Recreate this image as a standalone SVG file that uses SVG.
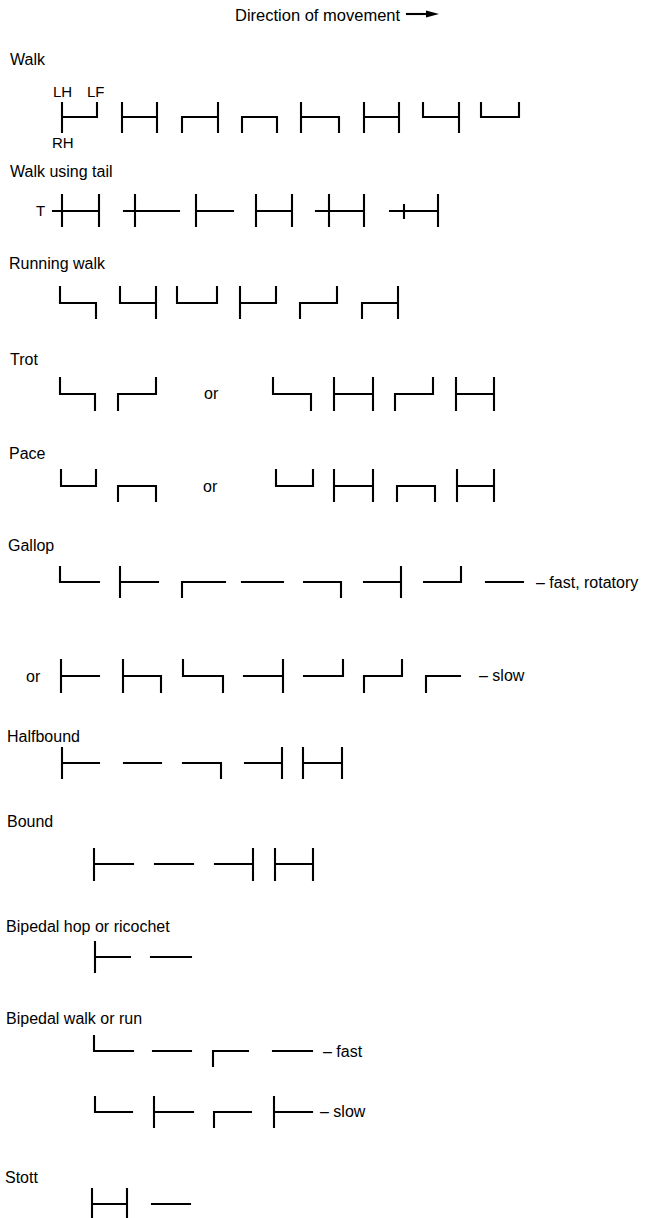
<svg xmlns="http://www.w3.org/2000/svg" width="648" height="1218" viewBox="0 0 648 1218">
<style>
text{font-family:"Liberation Sans",Arial,sans-serif;font-size:16px;fill:#000}
.t{font-size:16.5px}
.s{font-size:15px}
path{fill:none;stroke:#000;stroke-width:2.1;stroke-linecap:square;stroke-linejoin:miter}
</style>
<rect width="648" height="1218" fill="#fff"/>
<g id="title">
<text class="t" x="235" y="21">Direction of movement</text>
<path d="M407 14H430"/>
<polygon points="426,10.5 439,14 426,17.5" fill="#000"/>
</g>
<g id="labels">
<text x="10" y="65">Walk</text>
<text class="s" x="53" y="97">LH</text>
<text class="s" x="87" y="97">LF</text>
<text class="s" x="52" y="148">RH</text>
<text x="10" y="177">Walk using tail</text>
<text class="s" x="36" y="216">T</text>
<text x="9" y="269">Running walk</text>
<text x="10" y="365">Trot</text>
<text x="204" y="399">or</text>
<text x="9" y="459">Pace</text>
<text x="203" y="492">or</text>
<text x="8" y="551">Gallop</text>
<text x="536" y="588">– fast, rotatory</text>
<text x="26" y="682">or</text>
<text x="479" y="681">– slow</text>
<text x="7" y="742">Halfbound</text>
<text x="7" y="827">Bound</text>
<text x="6" y="932">Bipedal hop or ricochet</text>
<text x="6" y="1024">Bipedal walk or run</text>
<text x="323" y="1057">– fast</text>
<text x="320" y="1117">– slow</text>
<text x="5" y="1183">Stott</text>
</g>
<g id="walk">
<path d="M62 103V132M62 117H97V103"/>
<path d="M122 103V132M157 103V132M122 117H157"/>
<path d="M182 132V117H218M218 103V132"/>
<path d="M242 132V117H277V132"/>
<path d="M301 103V132M301 117H339V132"/>
<path d="M364 103V132M399 103V132M364 117H399"/>
<path d="M423 103V117H459M459 103V132"/>
<path d="M481 103V117H519V103"/>
</g>
<g id="walk-tail">
<path d="M53 211H99M62 195V226M99 195V226"/>
<path d="M124 211H179M135 195V226"/>
<path d="M196 195V226M196 211H233"/>
<path d="M256 195V226M292 195V226M256 211H292"/>
<path d="M316 211H364M329 195V226M364 195V226"/>
<path d="M390 211H438M404 205V218M438 195V226"/>
</g>
<g id="running-walk">
<path d="M60 287V303H96V318"/>
<path d="M120 287V303H156M156 287V318"/>
<path d="M177 287V303H217V287"/>
<path d="M240 287V318M240 303H276V287"/>
<path d="M300 318V303H337V287"/>
<path d="M362 318V303H398M398 287V318"/>
</g>
<g id="trot">
<path d="M60 378V394H95V410"/>
<path d="M118 410V394H156V378"/>
<path d="M273 378V394H311V410"/>
<path d="M334 378V410M373 378V410M334 394H373"/>
<path d="M395 410V394H433V378"/>
<path d="M456 378V410M494 378V410M456 394H494"/>
</g>
<g id="pace">
<path d="M61 470V486H96V470"/>
<path d="M118 501V486H156V501"/>
<path d="M276 470V486H313V470"/>
<path d="M334 470V501M373 470V501M334 486H373"/>
<path d="M397 501V486H435V501"/>
<path d="M457 470V501M494 470V501M457 486H494"/>
</g>
<g id="gallop-fast">
<path d="M60 567V582H99"/>
<path d="M120 567V597M120 582H158"/>
<path d="M182 597V582H225"/>
<path d="M242 582H283"/>
<path d="M304 582H341V597"/>
<path d="M364 582H401M401 567V597"/>
<path d="M424 582H461V567"/>
<path d="M486 582H523"/>
</g>
<g id="gallop-slow">
<path d="M61 660V692M61 676H99"/>
<path d="M123 660V692M123 676H161V692"/>
<path d="M183 660V676H223V692"/>
<path d="M244 676H283M283 660V692"/>
<path d="M304 676H343V660"/>
<path d="M364 692V676H402V660"/>
<path d="M426 692V676H460"/>
</g>
<g id="halfbound">
<path d="M62 748V778M62 763H99"/>
<path d="M124 763H161"/>
<path d="M183 763H221V778"/>
<path d="M245 763H282M282 748V778"/>
<path d="M303 748V778M342 748V778M303 763H342"/>
</g>
<g id="bound">
<path d="M94 849V880M94 864H133"/>
<path d="M155 864H193"/>
<path d="M215 864H253M253 849V880"/>
<path d="M275 849V880M313 849V880M275 864H313"/>
</g>
<g id="bipedal-hop">
<path d="M95 942V972M95 957H130"/>
<path d="M151 957H191"/>
</g>
<g id="bipedal-fast">
<path d="M94 1036V1051H133"/>
<path d="M153 1051H191"/>
<path d="M213 1066V1051H248"/>
<path d="M273 1051H312"/>
</g>
<g id="bipedal-slow">
<path d="M95 1097V1112H132"/>
<path d="M154 1097V1127M154 1112H193"/>
<path d="M214 1127V1112H251"/>
<path d="M274 1097V1127M274 1112H312"/>
</g>
<g id="stott">
<path d="M92 1189V1218M127 1189V1218M92 1204H127"/>
<path d="M152 1204H190"/>
</g>
</svg>
